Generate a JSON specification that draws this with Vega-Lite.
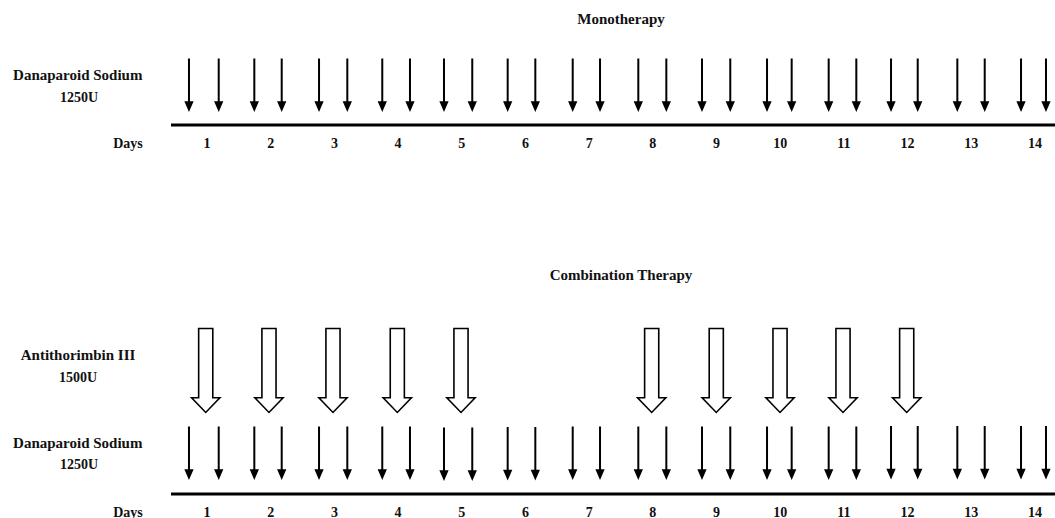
{
  "$schema": "https://vega.github.io/schema/vega-lite/v6.json",
  "width": 1055,
  "height": 518,
  "autosize": {"type": "none"},
  "padding": 0,
  "background": "white",
  "config": {"view": {"stroke": null}},
  "datasets": {
    "doses": [
      {"panel": "Monotherapy", "day": 0.717, "y": 84.5}, {"panel": "Monotherapy", "day": 1.184, "y": 84.5},
      {"panel": "Monotherapy", "day": 1.743, "y": 84.5}, {"panel": "Monotherapy", "day": 2.173, "y": 84.5},
      {"panel": "Monotherapy", "day": 2.759, "y": 84.5}, {"panel": "Monotherapy", "day": 3.203, "y": 84.5},
      {"panel": "Monotherapy", "day": 3.752, "y": 84.5}, {"panel": "Monotherapy", "day": 4.187, "y": 84.5},
      {"panel": "Monotherapy", "day": 4.721, "y": 84.5}, {"panel": "Monotherapy", "day": 5.165, "y": 84.5},
      {"panel": "Monotherapy", "day": 5.721, "y": 84.5}, {"panel": "Monotherapy", "day": 6.155, "y": 84.5},
      {"panel": "Monotherapy", "day": 6.742, "y": 84.5}, {"panel": "Monotherapy", "day": 7.171, "y": 84.5},
      {"panel": "Monotherapy", "day": 7.772, "y": 84.5}, {"panel": "Monotherapy", "day": 8.212, "y": 84.5},
      {"panel": "Monotherapy", "day": 8.772, "y": 84.5}, {"panel": "Monotherapy", "day": 9.216, "y": 84.5},
      {"panel": "Monotherapy", "day": 9.793, "y": 84.5}, {"panel": "Monotherapy", "day": 10.180, "y": 84.5},
      {"panel": "Monotherapy", "day": 10.761, "y": 84.5}, {"panel": "Monotherapy", "day": 11.195, "y": 84.5},
      {"panel": "Monotherapy", "day": 11.740, "y": 84.5}, {"panel": "Monotherapy", "day": 12.159, "y": 84.5},
      {"panel": "Monotherapy", "day": 12.781, "y": 84.5}, {"panel": "Monotherapy", "day": 13.211, "y": 84.5},
      {"panel": "Monotherapy", "day": 13.781, "y": 84.5}, {"panel": "Monotherapy", "day": 14.173, "y": 84.5},
      {"panel": "Combination", "day": 0.717, "y": 452.5}, {"panel": "Combination", "day": 1.184, "y": 452.5},
      {"panel": "Combination", "day": 1.743, "y": 452.5}, {"panel": "Combination", "day": 2.173, "y": 452.5},
      {"panel": "Combination", "day": 2.759, "y": 452.5}, {"panel": "Combination", "day": 3.203, "y": 452.5},
      {"panel": "Combination", "day": 3.752, "y": 452.5}, {"panel": "Combination", "day": 4.187, "y": 452.5},
      {"panel": "Combination", "day": 4.721, "y": 453.5}, {"panel": "Combination", "day": 5.165, "y": 453.5},
      {"panel": "Combination", "day": 5.721, "y": 453}, {"panel": "Combination", "day": 6.155, "y": 453},
      {"panel": "Combination", "day": 6.742, "y": 452.5}, {"panel": "Combination", "day": 7.171, "y": 452.5},
      {"panel": "Combination", "day": 7.772, "y": 452.5}, {"panel": "Combination", "day": 8.212, "y": 452.5},
      {"panel": "Combination", "day": 8.772, "y": 452.5}, {"panel": "Combination", "day": 9.216, "y": 452.5},
      {"panel": "Combination", "day": 9.793, "y": 452.5}, {"panel": "Combination", "day": 10.180, "y": 452.5},
      {"panel": "Combination", "day": 10.761, "y": 452.5}, {"panel": "Combination", "day": 11.195, "y": 452.5},
      {"panel": "Combination", "day": 11.740, "y": 452}, {"panel": "Combination", "day": 12.159, "y": 452},
      {"panel": "Combination", "day": 12.781, "y": 452}, {"panel": "Combination", "day": 13.211, "y": 452},
      {"panel": "Combination", "day": 13.781, "y": 452}, {"panel": "Combination", "day": 14.173, "y": 452}
    ],
    "at3": [
      {"day": 0.980, "y": 370.5}, {"day": 1.973, "y": 370.5}, {"day": 2.978, "y": 370.5},
      {"day": 3.988, "y": 370.5}, {"day": 4.988, "y": 370.5}, {"day": 7.982, "y": 370.5},
      {"day": 8.996, "y": 370.5}, {"day": 9.997, "y": 370.5}, {"day": 10.986, "y": 370.5},
      {"day": 11.986, "y": 370.5}
    ],
    "timelines": [
      {"panel": "Monotherapy", "start": 0.435, "end": 14.32, "y": 125},
      {"panel": "Combination", "start": 0.435, "end": 14.32, "y": 494}
    ],
    "texts": [
      {"kind": "title", "text": "Monotherapy", "day": 7.5, "y": 24},
      {"kind": "title", "text": "Combination Therapy", "day": 7.5, "y": 280},
      {"kind": "label", "text": "Danaparoid Sodium", "day": -1.029, "y": 80},
      {"kind": "small", "text": "1250U", "day": -1.01, "y": 101.7},
      {"kind": "small", "text": "Days", "day": -0.24, "y": 148.3},
      {"kind": "label", "text": "Antithorimbin III", "day": -1.025, "y": 360},
      {"kind": "small", "text": "1500U", "day": -1.025, "y": 381.7},
      {"kind": "label", "text": "Danaparoid Sodium", "day": -1.029, "y": 448.3},
      {"kind": "small", "text": "1250U", "day": -1.01, "y": 469.3},
      {"kind": "small", "text": "Days", "day": -0.24, "y": 516.5},
      {"kind": "small", "text": "1", "day": 1, "y": 148.3}, {"kind": "small", "text": "2", "day": 2, "y": 148.3},
      {"kind": "small", "text": "3", "day": 3, "y": 148.3}, {"kind": "small", "text": "4", "day": 4, "y": 148.3},
      {"kind": "small", "text": "5", "day": 5, "y": 148.3}, {"kind": "small", "text": "6", "day": 6, "y": 148.3},
      {"kind": "small", "text": "7", "day": 7, "y": 148.3}, {"kind": "small", "text": "8", "day": 8, "y": 148.3},
      {"kind": "small", "text": "9", "day": 9, "y": 148.3}, {"kind": "small", "text": "10", "day": 10, "y": 148.3},
      {"kind": "small", "text": "11", "day": 11, "y": 148.3}, {"kind": "small", "text": "12", "day": 12, "y": 148.3},
      {"kind": "small", "text": "13", "day": 13, "y": 148.3}, {"kind": "small", "text": "14", "day": 14, "y": 148.3},
      {"kind": "small", "text": "1", "day": 1, "y": 516.5}, {"kind": "small", "text": "2", "day": 2, "y": 516.5},
      {"kind": "small", "text": "3", "day": 3, "y": 516.5}, {"kind": "small", "text": "4", "day": 4, "y": 516.5},
      {"kind": "small", "text": "5", "day": 5, "y": 516.5}, {"kind": "small", "text": "6", "day": 6, "y": 516.5},
      {"kind": "small", "text": "7", "day": 7, "y": 516.5}, {"kind": "small", "text": "8", "day": 8, "y": 516.5},
      {"kind": "small", "text": "9", "day": 9, "y": 516.5}, {"kind": "small", "text": "10", "day": 10, "y": 516.5},
      {"kind": "small", "text": "11", "day": 11, "y": 516.5}, {"kind": "small", "text": "12", "day": 12, "y": 516.5},
      {"kind": "small", "text": "13", "day": 13, "y": 516.5}, {"kind": "small", "text": "14", "day": 14, "y": 516.5}
    ]
  },
  "encoding": {
    "x": {"field": "day", "type": "quantitative", "axis": null,
          "scale": {"domain": [-2.2501, 14.3145], "nice": false, "zero": false}},
    "y": {"field": "y", "type": "quantitative", "axis": null,
          "scale": {"domain": [518, 0], "nice": false, "zero": false}}
  },
  "layer": [
    {
      "data": {"name": "timelines"},
      "mark": {"type": "rule", "color": "black", "strokeWidth": 3, "clip": false},
      "encoding": {
        "x": {"field": "start", "type": "quantitative"},
        "x2": {"field": "end"}
      }
    },
    {
      "data": {"name": "doses"},
      "mark": {"type": "point", "filled": true, "color": "black", "opacity": 1,
               "stroke": "black", "strokeWidth": 2, "size": 2704,
               "shape": "M0,-1L0,0.72M-0.12,0.68L0.12,0.68L0,0.96Z"}
    },
    {
      "data": {"name": "at3"},
      "mark": {"type": "point", "filled": true, "fill": "white", "fillOpacity": 1, "opacity": 1,
               "stroke": "black", "strokeWidth": 1.6, "size": 7327,
               "shape": "M-0.165,-0.98L0.165,-0.98L0.165,0.636L0.33,0.636L0,0.98L-0.33,0.636L-0.165,0.636Z"}
    },
    {
      "data": {"name": "texts"},
      "transform": [{"filter": "datum.kind === 'title' || datum.kind === 'label'"}],
      "mark": {"type": "text", "font": "Liberation Serif", "fontWeight": "bold", "fontSize": 15,
               "align": "center", "baseline": "alphabetic", "color": "#111111"},
      "encoding": {"text": {"field": "text", "type": "nominal"}}
    },
    {
      "data": {"name": "texts"},
      "transform": [{"filter": "datum.kind === 'small'"}],
      "mark": {"type": "text", "font": "Liberation Serif", "fontWeight": "bold", "fontSize": 14,
               "align": "center", "baseline": "alphabetic", "color": "#111111"},
      "encoding": {"text": {"field": "text", "type": "nominal"}}
    }
  ]
}
